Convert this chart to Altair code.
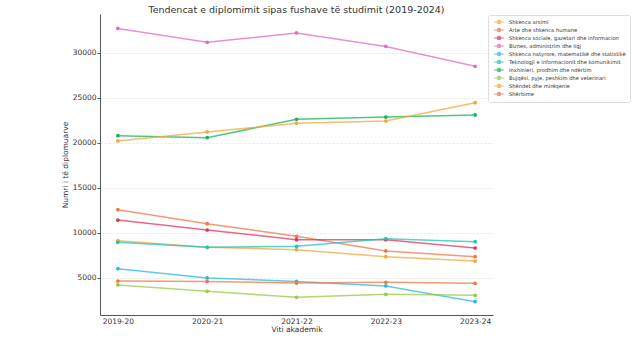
import altair as alt
import pandas as pd

years = ["2019-20", "2020-21", "2021-22", "2022-23", "2023-24"]

fields = [
    "Shkenca arsimi",
    "Arte dhe shkenca humane",
    "Shkenca sociale, gazetari dhe informacion",
    "Biznes, administrim dhe ligj",
    "Shkenca natyrore, matematikë dhe statistikë",
    "Teknologji e informacionit dhe komunikimit",
    "Inxhinieri, prodhim dhe ndërtim",
    "Bujqësi, pyje, peshkim dhe veterinari",
    "Shëndet dhe mirëqenie",
    "Shërbime",
]

colors = [
    "#f4a63b", "#ee7744", "#e0335e", "#e36bc1", "#2bb8e6",
    "#1ec6b8", "#14b45a", "#9cc944", "#f4a63b", "#ee7744",
]

shkenca_arsimi = [9110, 8380, 8110, 7330, 6850]
arte = [12560, 11000, 9600, 7970, 7330]
sociale = [11410, 10300, 9220, 9220, 8300]
biznes = [32700, 31150, 32190, 30700, 28490]
natyrore = [6000, 4970, 4590, 4080, 2330]
teknologji = [8930, 8380, 8490, 9330, 9000]
inxhinieri = [20780, 20560, 22600, 22850, 23080]
bujqesi = [4190, 3490, 2820, 3150, 3040]
shendet = [20190, 21190, 22160, 22410, 24440]
sherbime = [4630, 4590, 4410, 4490, 4380]

series = [shkenca_arsimi, arte, sociale, biznes, natyrore,
          teknologji, inxhinieri, bujqesi, shendet, sherbime]

rows = []
for f, vals in zip(fields, series):
    for y, v in zip(years, vals):
        rows.append({"Viti": y, "Fusha": f, "Numri": v})
df = pd.DataFrame(rows)

y_ticks = [5000, 10000, 15000, 20000, 25000, 30000]

x_enc = alt.X("Viti:O", sort=years,
              scale=alt.Scale(type="point", padding=0.2),
              axis=alt.Axis(title="Viti akademik", labelAngle=0))
y_enc = alt.Y("Numri:Q",
              scale=alt.Scale(domain=[855, 34300], nice=False, zero=False),
              axis=alt.Axis(title="Numri i të diplomuarve", values=y_ticks,
                            format="d"))
color_enc = alt.Color(
    "Fusha:N", sort=fields,
    scale=alt.Scale(domain=fields, range=colors),
    legend=alt.Legend(
        title=None, orient="none", legendX=388, legendY=1,
        symbolType="M-2.3,0L2.3,0M-0.75,0a0.75,0.75 0 1,0 1.5,0a0.75,0.75 0 1,0 -1.5,0",
        symbolSize=18, symbolStrokeWidth=1.2, symbolFillColor=None,
        labelFontSize=5.2, labelColor="#333", labelLimit=200,
        rowPadding=0, padding=4, strokeColor="#ddd", fillColor="white",
        cornerRadius=2, labelOffset=7, symbolOffset=4,
    ),
)

base = alt.Chart(df).encode(x=x_enc, y=y_enc, color=color_enc,
                            detail="Fusha:N")

lines = base.mark_line(strokeWidth=1.5, opacity=0.75)
points = base.mark_circle(size=14, opacity=1)

chart = (
    alt.layer(lines, points)
    .properties(
        width=393, height=301,
        title=alt.TitleParams(
            "Tendencat e diplomimit sipas fushave të studimit (2019-2024)",
            fontSize=9.5, fontWeight="normal", color="#333",
            font="DejaVu Sans", offset=0,
        ),
        autosize=alt.AutoSizeParams(type="none"),
        padding={"left": 100, "top": 14, "right": 147, "bottom": 40},
    )
    .configure(font="DejaVu Sans")
    .configure_view(stroke=None)
    .configure_axis(
        labelFontSize=7.5, titleFontSize=7.5, labelColor="#333",
        titleColor="#333", titleFontWeight="normal",
        domainColor="#555", domainWidth=1, tickColor="#555", tickSize=3,
        gridColor="#ddd", gridDash=[2, 2], gridWidth=0.7,
    )
    .configure_axisX(labelPadding=2, titlePadding=1, ticks=False)
    .configure_axisY(labelPadding=1, titlePadding=3)
)

chart.save("out.html", embed_options={"renderer": "svg", "actions": False})
